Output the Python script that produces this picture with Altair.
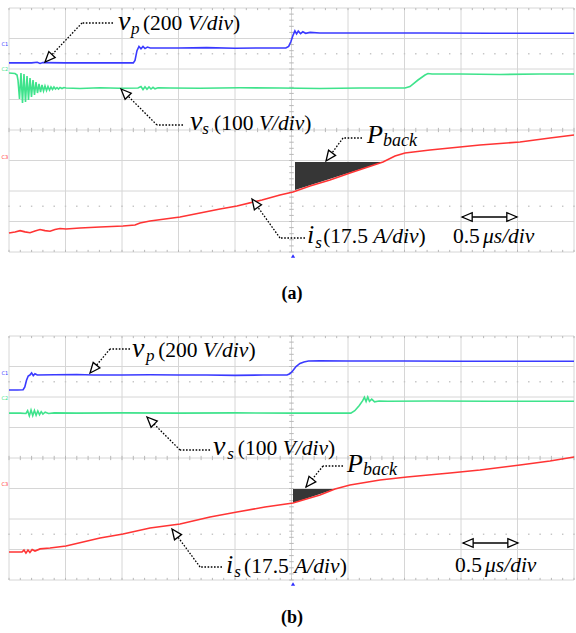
import math
import altair as alt
import pandas as pd

# ------------------------------------------------------------------
# Data: oscilloscope screen units (t: 0..10 div at 0.5 us/div, y: 0..8 div)
# ------------------------------------------------------------------
# Panel (a)
A_VP_T = [0, 0.4, 0.5, 0.55, 0.6, 1.0, 1.6, 2.20, 2.23, 2.265, 2.30, 2.336, 2.372, 2.407, 2.45, 2.5,
          3.0, 3.5, 4.0, 4.5, 4.90, 4.95, 4.99, 5.03, 5.06, 5.09, 5.12, 5.16, 5.20, 5.25, 5.33, 5.5,
          6.5, 7.5, 8.5, 9.5, 10]
A_VP_Y = [6.20, 6.20, 6.22, 6.18, 6.21, 6.20, 6.20, 6.20, 6.28, 6.60, 6.74, 6.66, 6.74, 6.67, 6.72, 6.69,
          6.69, 6.70, 6.68, 6.69, 6.69, 6.74, 6.90, 7.12, 7.25, 7.15, 7.24, 7.16, 7.22, 7.17, 7.20, 7.18,
          7.18, 7.18, 7.17, 7.17, 7.17]

A_VS_T = [0, 0.106, 0.142, 0.159, 0.186, 0.212, 0.239, 0.265, 0.292, 0.319, 0.345, 0.372, 0.398, 0.425,
          0.451, 0.478, 0.504, 0.531, 0.558, 0.584, 0.611, 0.637, 0.664, 0.690, 0.717, 0.743, 0.770,
          0.796, 0.823, 0.850, 0.876, 0.903, 0.938, 0.973, 1.009, 1.257, 1.611, 1.965, 2.283, 2.336,
          2.372, 2.407, 2.442, 2.478, 2.513, 2.549, 2.584, 2.637, 2.850, 3.381, 4.088, 4.796, 5.504,
          6.212, 7.009, 7.097, 7.239, 7.363, 7.416, 7.487, 7.982, 8.690, 9.398, 10]
A_VS_Y = [5.869, 5.852, 5.803, 5.639, 5.016, 5.869, 4.885, 5.836, 4.918, 5.770, 4.984, 5.705, 5.082, 5.639,
          5.148, 5.574, 5.213, 5.508, 5.246, 5.475, 5.279, 5.443, 5.295, 5.426, 5.311, 5.410, 5.328,
          5.410, 5.344, 5.393, 5.344, 5.393, 5.361, 5.393, 5.377, 5.361, 5.384, 5.367, 5.377, 5.426,
          5.328, 5.416, 5.334, 5.410, 5.344, 5.400, 5.351, 5.384, 5.377, 5.370, 5.384, 5.377, 5.361,
          5.377, 5.377, 5.426, 5.639, 5.803, 5.852, 5.836, 5.836, 5.820, 5.836, 5.836]

A_IS_T = [0, 0.106, 0.195, 0.283, 0.372, 0.460, 0.549, 0.637, 0.726, 0.814, 0.903, 1.009, 1.257, 1.611,
          2.018, 2.230, 2.319, 2.496, 2.761, 3.027, 3.381, 3.735, 4.035, 4.478, 4.796, 5.027, 5.327,
          5.681, 6.035, 6.301, 6.619, 6.832, 7.009, 7.451, 7.805, 8.336, 9.044, 9.575, 10]
A_IS_Y = [0.623, 0.656, 0.700, 0.660, 0.630, 0.689, 0.735, 0.700, 0.680, 0.740, 0.770, 0.754, 0.787, 0.820,
          0.852, 0.885, 0.951, 1.016, 1.082, 1.148, 1.279, 1.410, 1.508, 1.705, 1.869, 1.967, 2.164,
          2.361, 2.590, 2.754, 2.951, 3.148, 3.246, 3.344, 3.410, 3.508, 3.607, 3.738, 3.836]

A_TRI_T = [5.062, 6.619]
A_TRI_TOP = [2.951, 2.951]
A_TRI_BOT = [2.033, 2.951]

# Panel (b)
B_VP_T = [0, 0.15, 0.25, 0.28, 0.31, 0.34, 0.37, 0.40, 0.43, 0.46, 0.50, 0.8, 1.2, 1.5, 2.0, 2.5, 3.0,
          3.5, 4.0, 4.5, 4.92, 4.97, 5.02, 5.08, 5.15, 5.22, 5.30, 5.5, 6.0, 7.0, 8.0, 9.0, 10]
B_VP_Y = [6.23, 6.23, 6.24, 6.33, 6.55, 6.69, 6.72, 6.79, 6.70, 6.76, 6.72, 6.73, 6.74, 6.72, 6.72, 6.73,
          6.72, 6.72, 6.71, 6.72, 6.72, 6.76, 6.85, 7.00, 7.10, 7.15, 7.18, 7.19, 7.18, 7.18, 7.17, 7.17, 7.17]

B_VS_T = [0, 0.2, 0.30, 0.33, 0.36, 0.39, 0.42, 0.45, 0.48, 0.51, 0.54, 0.57, 0.60, 0.64, 0.7, 0.8, 1.2,
          2.0, 3.0, 4.0, 5.0, 6.05, 6.12, 6.20, 6.26, 6.29, 6.32, 6.35, 6.38, 6.42, 6.47, 6.55, 6.7,
          7.5, 8.5, 10]
B_VS_Y = [5.47, 5.47, 5.46, 5.55, 5.38, 5.57, 5.39, 5.56, 5.40, 5.54, 5.42, 5.52, 5.44, 5.50, 5.46, 5.48,
          5.47, 5.48, 5.47, 5.48, 5.47, 5.47, 5.55, 5.72, 5.88, 5.99, 5.85, 6.00, 5.86, 5.93, 5.84, 5.87,
          5.86, 5.87, 5.86, 5.86]

B_IS_T = [0, 0.23, 0.265, 0.30, 0.336, 0.37, 0.41, 0.46, 0.55, 0.726, 1.009, 1.611, 2.018, 2.496, 3.027,
          3.558, 4.035, 4.531, 5.027, 5.504, 5.770, 6.035, 6.566, 7.044, 7.805, 8.336, 9.044, 9.575, 10]
B_IS_Y = [0.918, 0.918, 0.98, 0.88, 0.98, 0.90, 1.00, 0.95, 1.02, 1.05, 1.115, 1.377, 1.508, 1.705, 1.836,
          2.066, 2.230, 2.393, 2.525, 2.787, 2.984, 3.115, 3.279, 3.377, 3.508, 3.607, 3.770, 3.902, 4.033]

B_TRI_T = [5.027, 5.770]
B_TRI_TOP = [2.984, 2.984]
B_TRI_BOT = [2.525, 2.984]

# Annotation pointers: text end -> corner -> arrow tip
ANN_PANEL = ["a", "a", "a", "a", "b", "b", "b", "b"]
ANN_START_T = [1.841, 3.080, 6.248, 5.239, 2.142, 3.558, 5.912, 3.770]
ANN_CORNER_T = [1.292, 2.619, 5.912, 4.796, 1.788, 3.027, 5.558, 3.381]
ANN_CORNER_Y = [7.508, 4.164, 3.738, 0.459, 7.574, 4.262, 3.738, 0.426]
ANN_TIP_T = [0.637, 1.982, 5.611, 4.301, 1.434, 2.442, 5.257, 2.885]
ANN_TIP_Y = [6.230, 5.344, 2.984, 1.738, 6.787, 5.344, 3.049, 1.672]

# Time-scale double arrows
SC_PANEL = ["a", "b"]
SC_T0 = [8.018, 8.035]
SC_T1 = [8.991, 9.009]
SC_Y = [1.148, 1.213]

# Text pieces
TXT_PANEL = ["a"] * 19 + ["b"] * 19
TXT_STR = ["v", "p", "(200 ", "V/div", ")",
           "v", "s", "(100 ", "V/div", ")",
           "P", "back",
           "i", "s", "(17.5 ", "A/div", ")",
           "0.5 ", "\u03bcs/div"] * 2
TXT_T = [1.929, 2.160, 2.370, 3.162, 3.966,
         3.204, 3.420, 3.630, 4.423, 5.226,
         6.336, 6.619,
         5.275, 5.420, 5.560, 6.445, 7.249,
         7.858, 8.389,
         2.177, 2.425, 2.640, 3.433, 4.237,
         3.611, 3.862, 4.050, 4.843, 5.647,
         5.982, 6.265,
         3.840, 3.985, 4.160, 5.048, 5.852,
         7.894, 8.425]
TXT_Y = [7.279, 7.148, 7.279, 7.279, 7.279,
         4.000, 3.869, 4.000, 4.000, 4.000,
         3.574, 3.475,
         0.295, 0.131, 0.295, 0.295, 0.295,
         0.295, 0.295,
         7.311, 7.180, 7.311, 7.311, 7.311,
         4.098, 3.967, 4.098, 4.098, 4.098,
         3.541, 3.443,
         0.230, 0.098, 0.230, 0.230, 0.230,
         0.262, 0.262]
TXT_SIZE = [28, 17, 21.5, 21.5, 21.5,
            28, 17, 21.5, 21.5, 21.5,
            26, 18,
            26, 17, 21.5, 21.5, 21.5,
            21.5, 21.5] * 2
TXT_ITALIC = [1, 1, 0, 1, 0,
              1, 1, 0, 1, 0,
              1, 1,
              1, 1, 0, 1, 0,
              0, 1] * 2

LBL_PANEL = ["a", "b"]
LBL_TXT = ["(a)", "(b)"]
LBL_T = [5.009, 5.009]
LBL_Y = [-1.541, -1.410]

CH_PANEL = ["a", "a", "a", "b", "b", "b"]
CH_TXT = ["C1", "C2", "C3", "C1", "C2", "C3"]
CH_SER = ["vp", "vs", "is", "vp", "vs", "is"]
CH_Y = [6.820, 6.000, 3.115, 6.787, 5.967, 3.148]

# ------------------------------------------------------------------
# Layout constants (screen geometry)
# ------------------------------------------------------------------
PX_X = 56.5
PX_Y = 30.5
X_DOMAIN = [-9 / PX_X, (576 - 9) / PX_X]
Y_DOMAIN = [-53 / PX_Y, 580 / PX_Y]
OFF = {"a": 328 / PX_Y, "b": 0.0}
FONT = "'Liberation Serif', 'Times New Roman', Times, serif"
COLORS = {"vp": "#3a3aff", "vs": "#3fe38c", "is": "#ff3434"}

xs = alt.Scale(domain=X_DOMAIN, nice=False, zero=False)
ys = alt.Scale(domain=Y_DOMAIN, nice=False, zero=False)


def X(f):
    return alt.X(f"{f}:Q", scale=xs, axis=None)


def Y(f):
    return alt.Y(f"{f}:Q", scale=ys, axis=None)


# traces
rows = []
for p, s, T, V in [("a", "vp", A_VP_T, A_VP_Y), ("a", "vs", A_VS_T, A_VS_Y), ("a", "is", A_IS_T, A_IS_Y),
                   ("b", "vp", B_VP_T, B_VP_Y), ("b", "vs", B_VS_T, B_VS_Y), ("b", "is", B_IS_T, B_IS_Y)]:
    for i, (t, v) in enumerate(zip(T, V)):
        rows.append({"key": p + s, "series": s, "idx": i, "t": t, "y": v + OFF[p]})
traces = pd.DataFrame(rows)

tri_rows = []
for p, T, TOP, BOT in [("a", A_TRI_T, A_TRI_TOP, A_TRI_BOT), ("b", B_TRI_T, B_TRI_TOP, B_TRI_BOT)]:
    for t, a, b in zip(T, TOP, BOT):
        tri_rows.append({"panel": p, "t": t, "top": a + OFF[p], "bot": b + OFF[p]})
tri = pd.DataFrame(tri_rows)

# grid
g_rows, tick_rows, dot_rows = [], [], []
for p in ["a", "b"]:
    o = OFF[p]
    for i in range(11):
        g_rows.append({"x0": i, "x1": i, "y0": o, "y1": o + 8})
    for j in range(9):
        g_rows.append({"x0": 0, "x1": 10, "y0": o + j, "y1": o + j})
    for k in range(41):
        tick_rows.append({"x0": 4.96, "x1": 5.04, "y0": o + k * 0.2, "y1": o + k * 0.2})
    for k in range(51):
        tick_rows.append({"x0": k * 0.2, "x1": k * 0.2, "y0": o + 3.93, "y1": o + 4.07})
        tick_rows.append({"x0": k * 0.2, "x1": k * 0.2, "y0": o + 7.93, "y1": o + 8.0})
        tick_rows.append({"x0": k * 0.2, "x1": k * 0.2, "y0": o + 0.0, "y1": o + 0.07})
        for yy in (1.5, 6.5):
            dot_rows.append({"t": k * 0.2, "y": o + yy})
grid = pd.DataFrame(g_rows)
ticks = pd.DataFrame(tick_rows)
dots = pd.DataFrame(dot_rows)

# annotations
seg_rows, head_rows = [], []
for p, st, ct, cy, tt, ty in zip(ANN_PANEL, ANN_START_T, ANN_CORNER_T, ANN_CORNER_Y, ANN_TIP_T, ANN_TIP_Y):
    o = OFF[p]
    seg_rows.append({"x0": st, "x1": ct, "y0": cy + o, "y1": cy + o})
    seg_rows.append({"x0": ct, "x1": tt, "y0": cy + o, "y1": ty + o})
    dx = (tt - ct) * PX_X
    dy = -(ty - cy) * PX_Y
    ang = math.degrees(math.atan2(dx, -dy)) % 360
    head_rows.append({"t": tt, "y": ty + o, "ang": ang})
sc_rows = []
for p, t0, t1, yv in zip(SC_PANEL, SC_T0, SC_T1, SC_Y):
    o = OFF[p]
    sc_rows.append({"x0": t0, "x1": t1, "y0": yv + o, "y1": yv + o})
    head_rows.append({"t": t0, "y": yv + o, "ang": 270})
    head_rows.append({"t": t1, "y": yv + o, "ang": 90})
segs = pd.DataFrame(seg_rows)
scl = pd.DataFrame(sc_rows)
heads = pd.DataFrame(head_rows)

txt = pd.DataFrame({"s": TXT_STR, "t": TXT_T,
                    "y": [v + OFF[p] for v, p in zip(TXT_Y, TXT_PANEL)],
                    "fs": TXT_SIZE, "it": TXT_ITALIC})
lbl = pd.DataFrame({"s": LBL_TXT, "t": LBL_T, "y": [v + OFF[p] for v, p in zip(LBL_Y, LBL_PANEL)]})
ch = pd.DataFrame({"s": CH_TXT, "series": CH_SER, "t": [-0.075] * 6,
                   "y": [v + OFF[p] for v, p in zip(CH_Y, CH_PANEL)]})
trig = pd.DataFrame({"t": [5.027, 5.027], "y": [OFF["a"] - 0.13, OFF["b"] - 0.13]})

color_scale = alt.Scale(domain=list(COLORS.keys()), range=list(COLORS.values()))

grid_l = alt.Chart(grid).mark_rule(color="#d6d6d6", strokeWidth=1).encode(
    x=X("x0"), x2="x1", y=Y("y0"), y2="y1")
tick_l = alt.Chart(ticks).mark_rule(color="#b8b8b8", strokeWidth=1).encode(
    x=X("x0"), x2="x1", y=Y("y0"), y2="y1")
dot_l = alt.Chart(dots).mark_point(shape="square", size=2, filled=True, color="#c4c4c4", opacity=1).encode(
    x=X("t"), y=Y("y"))
tri_l = alt.Chart(tri).mark_area(color="#363636", opacity=1).encode(
    x=X("t"), y=Y("top"), y2="bot", detail="panel:N")
line_l = alt.Chart(traces).mark_line(strokeWidth=1.6).encode(
    x=X("t"), y=Y("y"), color=alt.Color("series:N", scale=color_scale, legend=None),
    detail="key:N", order="idx:Q")
seg_l = alt.Chart(segs).mark_rule(color="black", strokeWidth=1.3, strokeDash=[1.6, 1.6]).encode(
    x=X("x0"), x2="x1", y=Y("y0"), y2="y1")
sc_l = alt.Chart(scl).mark_rule(color="black", strokeWidth=1.5).encode(
    x=X("x0"), x2="x1", y=Y("y0"), y2="y1")
head_l = alt.Chart(heads).mark_point(
    shape="M0,0L0.75,1.75L-0.75,1.75Z", size=135, filled=True, fill="white",
    stroke="black", strokeWidth=1.3, opacity=1).encode(
    x=X("t"), y=Y("y"), angle=alt.Angle("ang:Q", scale=None))
txt_i = alt.Chart(txt).transform_filter("datum.it == 1").mark_text(
    font=FONT, fontStyle="italic", align="left", baseline="alphabetic", color="black").encode(
    x=X("t"), y=Y("y"), text="s:N", size=alt.Size("fs:Q", scale=None))
txt_n = alt.Chart(txt).transform_filter("datum.it == 0").mark_text(
    font=FONT, align="left", baseline="alphabetic", color="black").encode(
    x=X("t"), y=Y("y"), text="s:N", size=alt.Size("fs:Q", scale=None))
lbl_l = alt.Chart(lbl).mark_text(
    font=FONT, fontWeight="bold", fontSize=18, align="center", baseline="alphabetic", color="black").encode(
    x=X("t"), y=Y("y"), text="s:N")
ch_l = alt.Chart(ch).mark_text(font="DejaVu Sans", fontSize=5, align="center", baseline="middle").encode(
    x=X("t"), y=Y("y"), text="s:N", color=alt.Color("series:N", scale=color_scale, legend=None))
trig_l = alt.Chart(trig).mark_point(shape="triangle-up", size=18, filled=True, color="#2f2fff", opacity=1).encode(
    x=X("t"), y=Y("y"))

chart = alt.layer(grid_l, tick_l, dot_l, tri_l, line_l, seg_l, sc_l, head_l,
                  txt_i, txt_n, lbl_l, ch_l, trig_l).properties(
    width=576, height=633, padding=0,
    autosize=alt.AutoSizeParams(type="none"),
    background="white",
).configure_view(stroke=None)

chart.save("out.html", embed_options={"renderer": "svg", "actions": False})
